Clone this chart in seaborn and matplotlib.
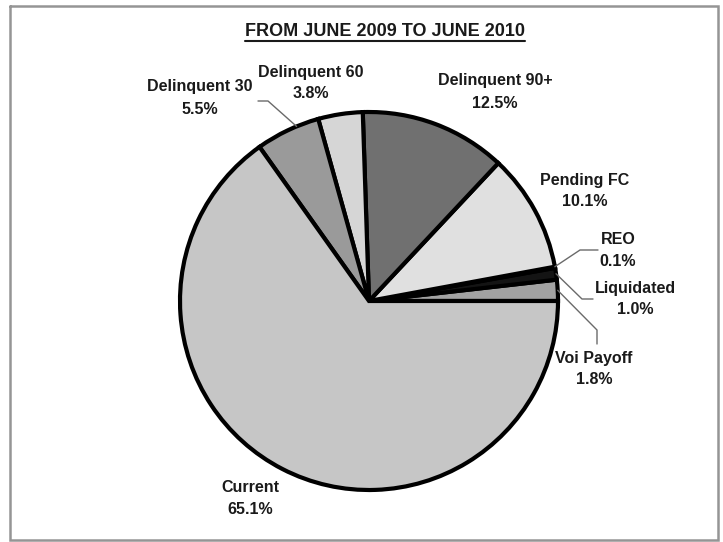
import matplotlib
matplotlib.use("Agg")
import matplotlib.pyplot as plt
import seaborn as sns
import numpy as np

categories = ["Vol Payoff", "Liquidated", "REO", "Pending FC",
              "Delinquent 90+", "Delinquent 60", "Delinquent 30", "Current"]
shown_names = ["Voi Payoff", "Liquidated", "REO", "Pending FC",
               "Delinquent 90+", "Delinquent 60", "Delinquent 30", "Current"]
shares = [1.8, 1.0, 0.1, 10.1, 12.5, 3.8, 5.5, 65.1]
slice_colors = ["#a2a2a2", "#141414", "#1a1a1a", "#e0e0e0",
                "#707070", "#d6d6d6", "#9a9a9a", "#c6c6c6"]
title = "FROM JUNE 2009 TO JUNE 2010"

sns.set_theme(style="white")
plt.rcParams["font.family"] = ["Liberation Sans", "DejaVu Sans"]

W, H = 723, 542
fig = plt.figure(figsize=(W / 100, H / 100), dpi=100)
ax = fig.add_axes([0, 0, 1, 1])


def py(y):
    # convert a top-down pixel row into axis y
    return H - y


cx, cy, r = 369, py(301), 189
wedges, _ = ax.pie(shares, colors=slice_colors, startangle=0, counterclock=True,
                   radius=r, center=(cx, cy), frame=True,
                   wedgeprops=dict(edgecolor="black", linewidth=3))
ax.set_xlim(0, W)
ax.set_ylim(0, H)
ax.set_aspect("equal")
ax.axis("off")


def edge_point(w, frac):
    ang = np.deg2rad(w.theta1 + (w.theta2 - w.theta1) * frac)
    return cx + r * np.cos(ang), cy + r * np.sin(ang)


# outer frame
ax.plot([10, 718, 718, 10, 10], [py(6), py(6), py(540), py(540), py(6)],
        color="#959595", lw=1.8, solid_joinstyle="miter")

label_pos = {
    "Vol Payoff": (594, 358),
    "Liquidated": (635, 288),
    "REO": (618, 239),
    "Pending FC": (585, 180),
    "Delinquent 90+": (495, 81),
    "Delinquent 60": (311, 72),
    "Delinquent 30": (200, 87),
    "Current": (250, 487),
}
for cat, name, val in zip(categories, shown_names, shares):
    x, y = label_pos[cat]
    ax.text(x, py(y), name, ha="center", va="center", fontsize=11.5,
            fontweight="bold", color="#1a1a1a")
    ax.text(x, py(y + 22), f"{val:.1f}%", ha="center", va="center",
            fontsize=11.5, fontweight="bold", color="#1a1a1a")

lc = dict(color="#6a6a6a", lw=1)
idx = {c: i for i, c in enumerate(categories)}
# Delinquent 30 leader
p = edge_point(wedges[idx["Delinquent 30"]], 0.35)
ax.plot([258, 268, p[0]], [py(101), py(101), p[1]], **lc)
# REO leader
p = edge_point(wedges[idx["REO"]], 1.0)
ax.plot([598, 580, p[0]], [py(250), py(250), p[1]], **lc)
# Liquidated leader
p = edge_point(wedges[idx["Liquidated"]], 0.5)
ax.plot([p[0], 582, 593], [p[1], py(299), py(299)], **lc)
# Vol Payoff leader
p = edge_point(wedges[idx["Vol Payoff"]], 0.5)
ax.plot([p[0], 597, 597], [p[1], py(330), py(344)], **lc)

t = ax.text(385, py(31), title, ha="center", va="center", fontsize=13,
            fontweight="bold", color="#1a1a1a")
fig.canvas.draw()
bb = t.get_window_extent(renderer=fig.canvas.get_renderer())
ax.plot([bb.x0, bb.x1], [bb.y0 - 1, bb.y0 - 1], color="#1a1a1a", lw=1.5)

fig.savefig("out.png", dpi=100)
